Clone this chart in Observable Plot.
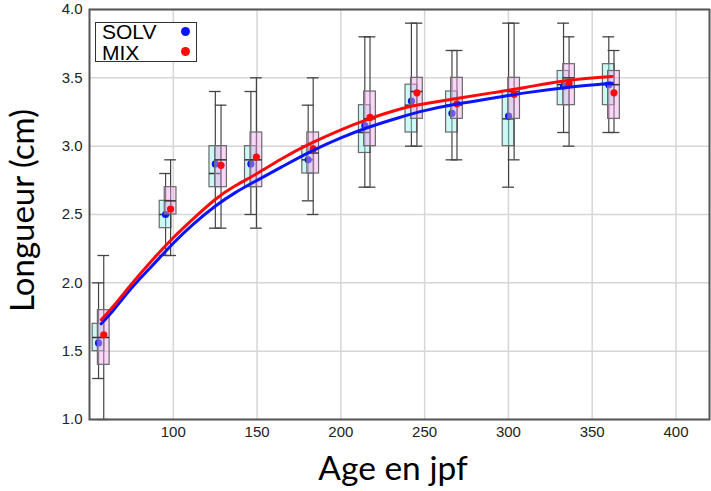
<!DOCTYPE html>
<html><head><meta charset="utf-8">
<script src="https://cdn.jsdelivr.net/npm/d3@7"></script>
<script src="https://cdn.jsdelivr.net/npm/@observablehq/plot@0.6"></script>
<style>
body{margin:0;background:#fff;}
#wrap{position:relative;width:711px;height:491px;overflow:hidden;}
.leg{position:absolute;left:95px;top:22px;width:100px;height:38px;border:1.5px solid #333;background:#fff;font-family:"Liberation Sans",Arial,sans-serif;font-size:21px;line-height:20.5px;color:#000;}
.leg span{position:absolute;white-space:nowrap;}
.leg i{position:absolute;width:9px;height:9px;border-radius:50%;}
</style></head><body><div id="wrap"></div>
<script>
// ---- data ----
const agesSolv = [55.4, 95.4, 125.1, 146.3, 180.5, 214.3, 242.1, 266.3, 300.1, 332.9, 359.9];
const agesMix  = [58.5, 98.4, 128.5, 149.6, 183.5, 217.4, 245.4, 269.3, 303.4, 336.2, 363.0];

const solvMin  = [1.3, 2.2, 2.4, 2.5, 2.6, 2.7, 3.0, 2.9, 2.7, 3.1, 3.1];
const solvQ1   = [1.5, 2.4, 2.7, 2.7, 2.8, 2.95, 3.1, 3.1, 3.0, 3.3, 3.3];
const solvMed  = [1.6, 2.5, 2.8, 2.9, 2.9, 3.1, 3.3, 3.3, 3.2, 3.45, 3.45];
const solvQ3   = [1.7, 2.6, 3.0, 3.0, 3.0, 3.3, 3.45, 3.4, 3.4, 3.55, 3.6];
const solvMax  = [2.0, 2.8, 3.4, 3.4, 3.3, 3.8, 3.9, 3.7, 3.9, 3.9, 3.8];
const solvMean = [1.56, 2.50, 2.87, 2.87, 2.90, 3.15, 3.33, 3.24, 3.22, 3.44, 3.45];

const mixMin  = [1.0, 2.2, 2.4, 2.4, 2.5, 2.7, 3.0, 2.9, 2.9, 3.0, 3.1];
const mixQ1   = [1.4, 2.5, 2.7, 2.7, 2.8, 3.0, 3.2, 3.2, 3.2, 3.3, 3.2];
const mixMed  = [1.6, 2.6, 2.9, 2.9, 2.95, 3.2, 3.4, 3.3, 3.4, 3.5, 3.45];
const mixQ3   = [1.8, 2.7, 3.0, 3.1, 3.1, 3.4, 3.5, 3.5, 3.5, 3.6, 3.55];
const mixMax  = [2.2, 2.9, 3.3, 3.5, 3.5, 3.8, 3.9, 3.7, 3.9, 3.8, 3.7];
const mixMean = [1.62, 2.54, 2.86, 2.92, 2.98, 3.21, 3.39, 3.31, 3.38, 3.46, 3.39];

const curveDays  = [57, 65, 75, 87, 100, 112, 125, 137, 150, 165, 182, 200, 217, 235, 250, 270, 290, 310, 335, 362];
const curveSolv  = [1.70, 1.81, 1.96, 2.12, 2.29, 2.43, 2.56, 2.66, 2.75, 2.85, 2.96, 3.06, 3.14, 3.21, 3.26, 3.31, 3.35, 3.39, 3.43, 3.46];
const curveMix   = [1.73, 1.84, 1.99, 2.16, 2.33, 2.47, 2.61, 2.71, 2.80, 2.91, 3.02, 3.12, 3.20, 3.27, 3.31, 3.35, 3.39, 3.43, 3.48, 3.51];

const xTicks = [100, 150, 200, 250, 300, 350, 400];
const yTicks = [1.0, 1.5, 2.0, 2.5, 3.0, 3.5, 4.0];
const seriesNames = ["SOLV", "MIX"];
const xTitle = "Age en jpf";
const yTitle = "Longueur (cm)";

// ---- build tables ----
const mk = (ages, mn, q1, md, q3, mx, me) => ages.map((a, i) => ({age: a, min: mn[i], q1: q1[i], med: md[i], q3: q3[i], max: mx[i], mean: me[i]}));
const solv = mk(agesSolv, solvMin, solvQ1, solvMed, solvQ3, solvMax, solvMean);
const mix = mk(agesMix, mixMin, mixQ1, mixMed, mixQ3, mixMax, mixMean);
const lineSolv = curveDays.map((d, i) => ({day: d, v: curveSolv[i]}));
const lineMix = curveDays.map((d, i) => ({day: d, v: curveMix[i]}));

const HALF = 3.5;
function boxMarks(data, fill, dotColor) {
  const x1 = d => d.age - HALF, x2 = d => d.age + HALF;
  return [
    Plot.ruleX(data, {x: "age", y1: "min", y2: "max", stroke: "#444", strokeWidth: 1.2}),
    Plot.ruleY(data, {y: "min", x1, x2, stroke: "#444", strokeWidth: 1.3}),
    Plot.ruleY(data, {y: "max", x1, x2, stroke: "#444", strokeWidth: 1.3}),
    Plot.rect(data, {x1, x2, y1: "q1", y2: "q3", fill, fillOpacity: 0.45, stroke: "#6a6a6a", strokeWidth: 1.2}),
    Plot.ruleY(data, {y: "med", x1, x2, stroke: "#333", strokeWidth: 1.5}),
    Plot.dot(data, {x: "age", y: "mean", r: 3.6, fill: dotColor, stroke: "none"})
  ];
}

const titleFont = "Lato, 'Open Sans', sans-serif";
const chart = Plot.plot({
  width: 711, height: 491,
  marginLeft: 89, marginRight: 2, marginTop: 9, marginBottom: 72,
  style: {fontFamily: "'Liberation Sans', Arial, sans-serif", fontSize: "15px", background: "#fff", color: "#222"},
  x: {domain: [50, 420]},
  y: {domain: [1, 4]},
  marks: [
    Plot.gridX(xTicks, {stroke: "#d6d6d6", strokeOpacity: 1, strokeWidth: 1.5}),
    Plot.gridY(yTicks, {stroke: "#d6d6d6", strokeOpacity: 1, strokeWidth: 1.5}),
    Plot.axisX(xTicks, {tickSize: 0, tickPadding: 7, label: null, fontSize: 15, tickFormat: d => String(d)}),
    Plot.axisY(yTicks, {tickSize: 0, tickPadding: 7, label: null, fontSize: 15, tickFormat: d => d.toFixed(1)}),
    ...boxMarks(solv, "#8ef0ec", "#0a14ff"),
    ...boxMarks(mix, "#f0a8ec", "#ff0a0a"),
    Plot.line(lineSolv, {x: "day", y: "v", stroke: "#0a14ff", strokeWidth: 3, curve: "natural"}),
    Plot.line(lineMix, {x: "day", y: "v", stroke: "#ff0a0a", strokeWidth: 3, curve: "natural"}),
    Plot.frame({stroke: "#555", strokeWidth: 2}),
    Plot.text([xTitle], {frameAnchor: "bottom", text: d => d, textAnchor: "middle", lineAnchor: "middle", dy: 50, dx: -6.5, fontSize: 33.5, fontFamily: titleFont, fill: "#000"}),
    Plot.text([yTitle], {frameAnchor: "left", text: d => d, rotate: -90, textAnchor: "middle", lineAnchor: "middle", dx: -66, dy: -4, fontSize: 33, fontFamily: titleFont, fill: "#000"})
  ]
});

const wrap = document.getElementById("wrap");
wrap.appendChild(chart);

// legend (overlay inside plot frame)
const leg = document.createElement("div");
leg.className = "leg";
leg.innerHTML =
  `<span style="left:6px;top:-1.2px">${seriesNames[0]}</span>` +
  `<span style="left:6px;top:20.2px">${seriesNames[1]}</span>` +
  `<i style="left:85px;top:4px;background:#0a14ff"></i>` +
  `<i style="left:85px;top:24px;background:#ff0a0a"></i>`;
wrap.appendChild(leg);
</script></body></html>
